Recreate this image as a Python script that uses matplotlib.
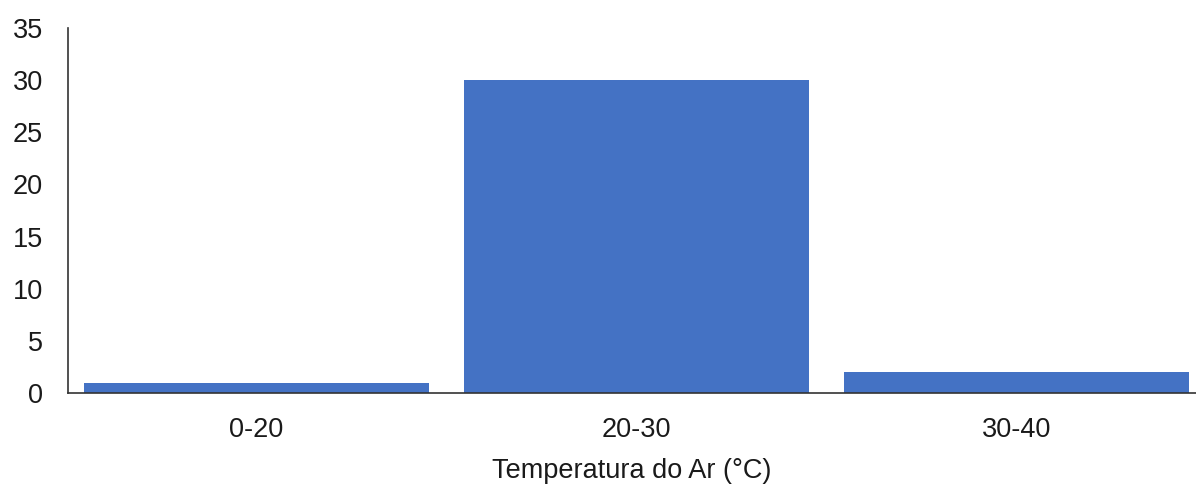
import matplotlib
matplotlib.use('Agg')
import matplotlib.pyplot as plt
import numpy as np

# 数据
categorias = ['0-20', '20-30', '30-40']
valores = [1, 30, 2]
y_ticks = [0, 5, 10, 15, 20, 25, 30, 35]

plt.rcParams['font.family'] = ['Liberation Sans', 'DejaVu Sans']

fig = plt.figure(figsize=(11.96, 4.87), dpi=100)
ax = fig.add_axes([68 / 1196, 94 / 487, (1196 - 68) / 1196, 365 / 487])

x = np.arange(len(categorias))
ax.bar(x, valores, width=0.908, color='#4472C4', edgecolor='none')

ax.set_xlim(-0.495, 2.473)
ax.set_ylim(0, 35)
ax.set_yticks(y_ticks)
ax.set_xticks(x)
ax.set_xticklabels(categorias)

ax.tick_params(axis='both', length=0, labelsize=19.5, colors='#1a1a1a')
ax.tick_params(axis='y', pad=18)
ax.tick_params(axis='x', pad=17)
ax.set_xlabel('Temperatura do Ar (°C)', fontsize=19.5, color='#1a1a1a', labelpad=11)

for s in ['top', 'right']:
    ax.spines[s].set_visible(False)
for s in ['left', 'bottom']:
    ax.spines[s].set_color('#333333')
    ax.spines[s].set_linewidth(1.2)

fig.savefig('out.png', dpi=100)
